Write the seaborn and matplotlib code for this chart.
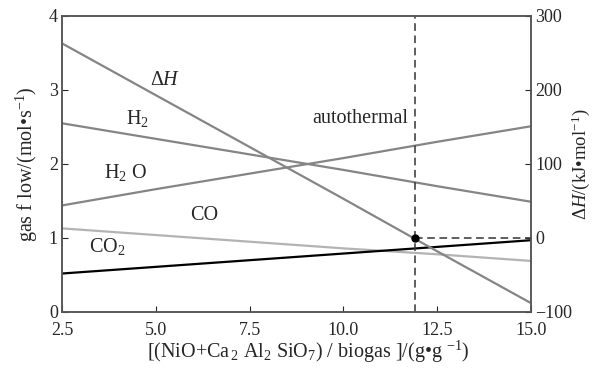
import matplotlib
matplotlib.use("Agg")
import matplotlib.pyplot as plt
import seaborn as sns
import pandas as pd

# ---- data ----
ratio = [2.5, 5.0, 7.5, 10.0, 12.5, 15.0]
h2 = [2.55, 2.34, 2.13, 1.92, 1.70, 1.49]
h2o = [1.44, 1.66, 1.87, 2.08, 2.30, 2.51]
co = [1.13, 1.04, 0.95, 0.86, 0.78, 0.69]
co2 = [0.52, 0.61, 0.70, 0.79, 0.88, 0.97]
dH = [263, 193, 123, 53, -18, -88]
auto_x = 11.9
auto_dH = 0
xtick_labels = ["2.5", "5.0", "7.5", "10.0", "12.5", "15.0"]

sns.set_style("ticks")
plt.rcParams['font.family'] = ['Liberation Serif', 'DejaVu Serif']
plt.rcParams['mathtext.fontset'] = 'custom'
plt.rcParams['mathtext.rm'] = 'Liberation Serif'
plt.rcParams['mathtext.it'] = 'Liberation Serif:italic'
plt.rcParams['font.size'] = 13

fig, ax = plt.subplots(figsize=(5.94, 3.75), dpi=100)
fig.subplots_adjust(left=62/594, right=531/594, top=1-16/375, bottom=1-312/375)

gas = pd.DataFrame({"x": ratio, "H2": h2, "H2O": h2o, "CO": co, "CO2": co2})
colors = {"H2": "#858585", "H2O": "#858585", "CO": "#b3b3b3", "CO2": "#000000"}
for k in ["H2", "H2O", "CO", "CO2"]:
    sns.lineplot(data=gas, x="x", y=k, ax=ax, color=colors[k], lw=1.6)

ax.set_xlim(2.5, 15.0)
ax.set_ylim(0, 4)
ax.set_xticks(ratio)
ax.set_xticklabels(xtick_labels)
ax.set_yticks([0, 1, 2, 3, 4])
ax.tick_params(direction="in", length=4, labelsize=13, pad=3)
ax.tick_params(axis="x", pad=7)
ax.set_xlabel("[(NiO+Ca$_{\\,2}$ Al$_2$ SiO$_7$) / biogas ]/(g\u2022g $^{-1}$)",
              fontsize=14.5)
ax.xaxis.set_label_coords(0.525, -0.09)
ax.set_ylabel("gas f low/(mol\u2022s$^{-1}$)", fontsize=14.5, labelpad=6)

ax.axvline(auto_x, color="#333333", ls=(0, (5, 3)), lw=1.1)

ax2 = ax.twinx()
dfh = pd.DataFrame({"x": ratio, "dH": dH})
sns.lineplot(data=dfh, x="x", y="dH", ax=ax2, color="#858585", lw=1.6)
ax2.set_ylim(-100, 300)
ax2.set_yticks([-100, 0, 100, 200, 300])
ax2.set_yticklabels(["\u2212100", "0", "100", "200", "300"])
ax2.tick_params(direction="in", length=4, labelsize=13, pad=3)
ax2.set_ylabel("\u0394$H$/(kJ\u2022mol$^{-1}$)", fontsize=13.5, labelpad=-2)
ax2.hlines(auto_dH, auto_x, 15.0, color="#333333", ls=(0, (5, 3)), lw=1.1)
ax2.plot([auto_x], [auto_dH], "o", color="black", ms=5)
ax2.set_xlim(2.5, 15.0)

for a in (ax, ax2):
    for s in a.spines.values():
        s.set_color("#555555")
        s.set_linewidth(1.1)

# labels
fs = 14.5
ax.text(5.25, 3.13, "\u0394$H$", fontsize=fs, ha="center", va="center")
ax.text(4.5, 2.62, "H$_2$", fontsize=fs, ha="center", va="center")
ax.text(4.2, 1.89, "H$_2$ O", fontsize=fs, ha="center", va="center")
ax.text(6.3, 1.31, "CO", fontsize=fs, ha="center", va="center")
ax.text(3.7, 0.88, "CO$_2$", fontsize=fs, ha="center", va="center")
ax.text(10.45, 2.61, "autothermal", fontsize=fs, ha="center", va="center")

fig.savefig("out.png", dpi=100)
